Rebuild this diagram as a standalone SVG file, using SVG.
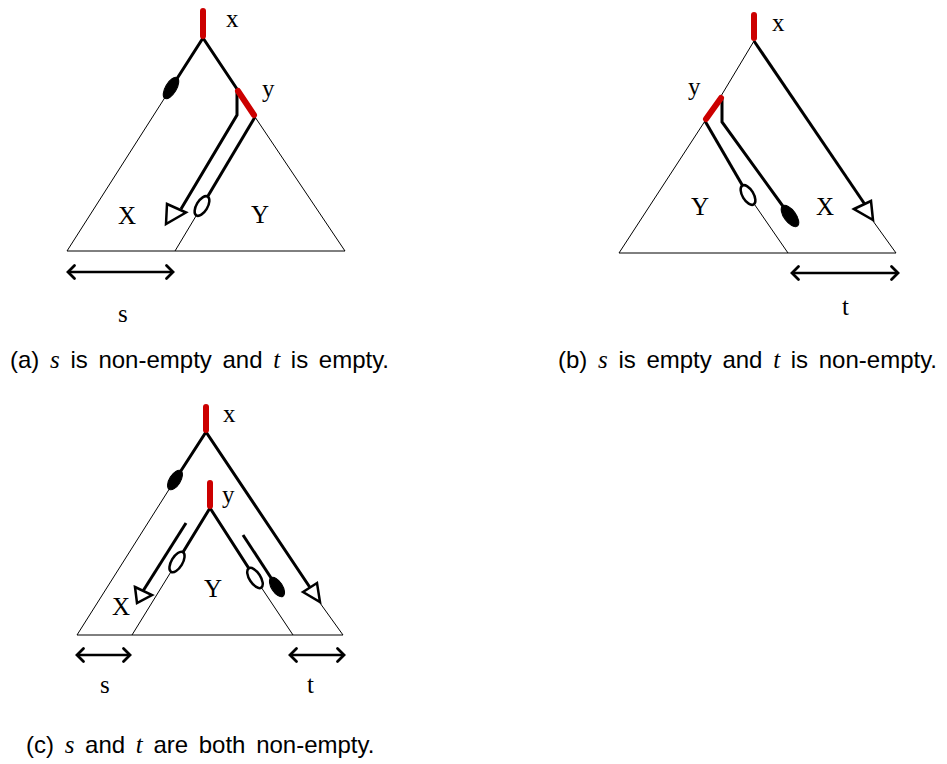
<svg xmlns="http://www.w3.org/2000/svg" width="947" height="764" viewBox="0 0 947 764">
<defs>
<style>
.thin{stroke:#000;stroke-width:1;fill:none}
.thick{stroke:#000;stroke-width:3;fill:none;stroke-linejoin:miter}
.red{stroke:#cc0000;stroke-width:6;stroke-linecap:round;fill:none}
.open{fill:#fff;stroke:#000;stroke-width:2.5}
.full{fill:#000;stroke:#000;stroke-width:1}
.tri{fill:#fff;stroke:#000;stroke-width:2.5;stroke-linejoin:miter}
.dbl{stroke:#000;stroke-width:2.5;fill:none;marker-start:url(#chev);marker-end:url(#chev)}
.lbl{font-family:"Liberation Serif","Times New Roman",serif;font-size:25px;fill:#000}
.cap{font-family:"Liberation Sans",Arial,sans-serif;font-size:24px;fill:#000;word-spacing:4px}
.math{font-family:"Liberation Serif","Times New Roman",serif;font-style:italic;font-size:25px}
</style>
<marker id="chev" markerUnits="userSpaceOnUse" markerWidth="20" markerHeight="20" refX="0" refY="0" viewBox="-10 -10 20 20" orient="auto-start-reverse" overflow="visible">
<path d="M-6.5,-6.5 L0,0 L-6.5,6.5" fill="none" stroke="#000" stroke-width="2.8" stroke-linecap="round" stroke-linejoin="miter"/>
</marker>
</defs>
<rect width="947" height="764" fill="#fff"/>

<!-- Panel (a) -->
<g id="panel-a">
<g id="a-connectors">
<path class="thin" d="M171,88 L67,251 H345 L255,117"/>
<path class="thin" d="M202,206 L175,251"/>
<path class="thick" d="M171,88 L203,38 L237,89"/>
<path class="thick" d="M255,117 L202,206"/>
<path class="thick" d="M237,92 V115 L181,209"/>
<polygon class="tri" points="167,204 186,212.5 166,224"/>
<ellipse class="full" cx="171" cy="88" rx="5.5" ry="12" transform="rotate(31 171 88)"/>
<ellipse class="open" cx="202" cy="206" rx="5.5" ry="11" transform="rotate(31 202 206)"/>
<path class="dbl" d="M68,272 H173"/>
</g>
<g id="a-node-x"><path class="red" d="M203,11 V36"/><text class="lbl" x="226" y="27">x</text></g>
<g id="a-node-y"><path class="red" d="M238,91 L254,115"/><text class="lbl" x="262" y="97">y</text></g>
<g id="a-node-X"><text class="lbl" x="118" y="224">X</text></g>
<g id="a-node-Y"><text class="lbl" x="251" y="223">Y</text></g>
<g id="a-label-s"><text class="lbl" x="118" y="322">s</text></g>
<g id="a-caption"><text class="cap" x="10" y="368">(a) <tspan class="math">s</tspan> is non-empty and <tspan class="math">t</tspan> is empty.</text></g>
</g>

<!-- Panel (b) -->
<g id="panel-b">
<g id="b-connectors">
<path class="thin" d="M754,41 L721,96 M705,121 L619,253 H896 L873,221"/>
<path class="thin" d="M748,195 L788,253"/>
<path class="thick" d="M754,41 L866,206"/>
<polygon class="tri" points="854,209 871,201 873,220"/>
<path class="thick" d="M705,121 L748,195"/>
<path class="thick" d="M722,98 V122 L790,216"/>
<ellipse class="open" cx="748" cy="195" rx="5.5" ry="11" transform="rotate(-31 748 195)"/>
<ellipse class="full" cx="790" cy="216" rx="6" ry="12.5" transform="rotate(-36 790 216)"/>
<path class="dbl" d="M792,273 H898"/>
</g>
<g id="b-node-x"><path class="red" d="M754,15 V38"/><text class="lbl" x="772" y="31">x</text></g>
<g id="b-node-y"><path class="red" d="M721,98 L706,119"/><text class="lbl" x="688" y="95">y</text></g>
<g id="b-node-Y"><text class="lbl" x="691" y="215">Y</text></g>
<g id="b-node-X"><text class="lbl" x="816" y="215">X</text></g>
<g id="b-label-t"><text class="lbl" x="842" y="315">t</text></g>
<g id="b-caption"><text class="cap" x="558" y="368">(b) <tspan class="math">s</tspan> is empty and <tspan class="math">t</tspan> is non-empty.</text></g>
</g>

<!-- Panel (c) -->
<g id="panel-c">
<g id="c-connectors">
<path class="thin" d="M175,480 L77,635 H343 L320,603"/>
<path class="thin" d="M177,562 L132,635"/>
<path class="thin" d="M255,578 L293,635"/>
<path class="thick" d="M175,480 L206,432 L311,589"/>
<polygon class="tri" points="303,592 317,583 320,602"/>
<path class="thick" d="M177,562 L210,508 L255,578"/>
<path class="thick" d="M186,523 L143,591"/>
<polygon class="tri" points="135,587 152,595 137,603"/>
<path class="thick" d="M243,535 L277,587"/>
<ellipse class="full" cx="175" cy="480" rx="5.5" ry="11" transform="rotate(32 175 480)"/>
<ellipse class="open" cx="177" cy="562" rx="5.5" ry="11.5" transform="rotate(31 177 562)"/>
<ellipse class="open" cx="255" cy="578" rx="5.5" ry="11.5" transform="rotate(-33 255 578)"/>
<ellipse class="full" cx="277" cy="587" rx="5.5" ry="11" transform="rotate(-33 277 587)"/>
<path class="dbl" d="M77,655 H130"/>
<path class="dbl" d="M290,655 H344"/>
</g>
<g id="c-node-x"><path class="red" d="M206,407 V430"/><text class="lbl" x="223" y="422">x</text></g>
<g id="c-node-y"><path class="red" d="M210,483 V506"/><text class="lbl" x="222" y="503">y</text></g>
<g id="c-node-Y"><text class="lbl" x="204" y="597">Y</text></g>
<g id="c-node-X"><text class="lbl" x="112" y="615">X</text></g>
<g id="c-label-s"><text class="lbl" x="100" y="693">s</text></g>
<g id="c-label-t"><text class="lbl" x="307" y="693">t</text></g>
<g id="c-caption"><text class="cap" x="26" y="753">(c) <tspan class="math">s</tspan> and <tspan class="math">t</tspan> are both non-empty.</text></g>
</g>
</svg>
